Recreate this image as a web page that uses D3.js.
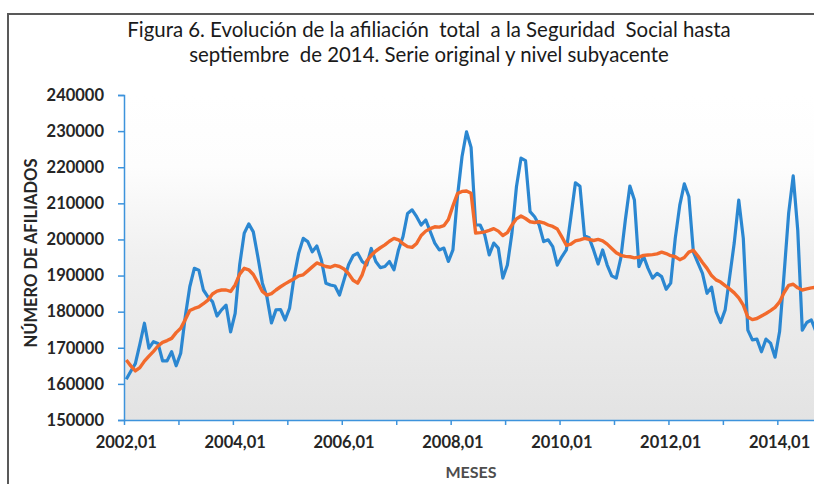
<!DOCTYPE html>
<html>
<head>
<meta charset="utf-8">
<script src="https://cdn.jsdelivr.net/npm/d3@7/dist/d3.min.js"></script>
<style>
  body { margin: 0; background: #ffffff; }
  text { font-family: Lato, "Open Sans", sans-serif; }
</style>
</head>
<body>
<div id="chart"></div>
<script>
//SVG size
var width = 814,
    height = 484;

//Plot area (the right edge runs past the picture, like in the source)
var plotLeft = 124,
    plotTop = 95,
    plotBottom = 420,
    monthWidth = 4.537;

//Months from 2002,01 to 2014,09
var firstYear = 2002;

//Serie original (afiliados)
var original = [
    161300, 163500, 165600, 171000, 176800, 169900, 171700, 171200, 166400, 166400, 168900, 165000,
    168500, 178600, 186900, 192000, 191500, 186000, 184100, 182800, 178800, 180500, 181800, 174400,
    179500, 193000, 201700, 204300, 202100, 195200, 187900, 184100, 176900, 180500, 180600, 177700,
    181000, 189700, 196200, 200300, 199400, 196600, 198200, 194300, 187900, 187400, 187100, 184600,
    188800, 193000, 195500, 196200, 193900, 192900, 197500, 193900, 192200, 192500, 193900, 191600,
    197100, 200800, 207200, 208200, 206300, 204000, 205400, 202200, 199000, 197100, 197600, 193900,
    197100, 211900, 222900, 229800, 225500, 204000, 204000, 201300, 195700, 199000, 197600, 189300,
    192900, 201700, 214600, 222500, 221800, 207700, 206300, 204000, 199400, 199900, 198000, 192900,
    195200, 197100, 206300, 215700, 214700, 201000, 200500, 197100, 193200, 197100, 192900, 189900,
    189300, 194800, 205400, 214800, 210900, 192500, 195400, 192000, 189300, 190600, 189700, 186200,
    187900, 200300, 209500, 215400, 211900, 196500, 193500, 190600, 185100, 186800, 180000, 177000,
    180500, 189700, 199000, 210900, 200300, 174900, 172200, 172400, 168900, 172400, 171300, 167400,
    174500, 190600, 207300, 217600, 202600, 174900, 177000, 177700, 174500
];

//Nivel subyacente
var trend = [
    166600, 165000, 163600, 164500, 166300, 167700, 169000, 170500, 171500, 172000, 172600, 174200,
    175400, 177800, 180300, 180900, 181300, 182200, 183200, 184900, 185700, 186000, 186000, 185600,
    187400, 190400, 192000, 191600, 190300, 188000, 185600, 184600, 185000, 186000, 186900, 187700,
    188400, 189100, 189900, 190200, 191300, 192400, 193500, 193000, 192500, 192300, 192800, 192500,
    191800, 190500, 188700, 187900, 190200, 194000, 195600, 196800, 197700, 198500, 199500, 200300,
    199900, 198800, 198000, 197800, 198900, 201100, 202300, 203000, 203500, 203400, 203800, 205500,
    209300, 212700, 213300, 213400, 212800, 201800, 201900, 202100, 202500, 203000, 202300, 201100,
    201900, 204000, 205700, 206500, 205800, 204900, 204700, 204900, 204600, 204000, 203600, 202900,
    200700, 198400, 198700, 199600, 199900, 200300, 200000, 199700, 200000, 199600, 198700, 197500,
    196300, 195600, 195300, 195200, 194900, 195100, 195600, 195700, 195800, 196000, 196500, 196100,
    195500, 195200, 194400, 195000, 196500, 197000, 195400, 193600, 192000, 190000, 188800, 188200,
    187200, 186300, 185200, 183800, 181800, 178500, 177800, 178100, 178800, 179500, 180300, 181200,
    182700, 185300, 187300, 187600, 186600, 186000, 186300, 186600, 186800
];

//Tick values and labels
var yTicks = [150000, 160000, 170000, 180000, 190000, 200000, 210000, 220000, 230000, 240000];
var xTickMonths = [0, 12, 24, 36, 48, 60, 72, 84, 96, 108, 120, 132, 144];
var xLabelMonths = [0, 24, 48, 72, 96, 120, 144];
var xLabels = ["2002,01", "2004,01", "2006,01", "2008,01", "2010,01", "2012,01", "2014,01"];

var titleLines = [
    "Figura 6. Evolución de la afiliación  total  a la Seguridad  Social hasta",
    "septiembre  de 2014. Serie original y nivel subyacente"
];

var blue = "#2b87d1",
    orange = "#f26a2c",
    axisBlue = "#3d93dc";

var svg = d3.select("#chart")
    .append("svg")
    .attr("width", width)
    .attr("height", height);

//Scales
var nMonths = original.length;
var xScale = d3.scaleLinear()
    .domain([0, nMonths])
    .range([plotLeft, plotLeft + nMonths * monthWidth]);

var yScale = d3.scaleLinear()
    .domain([150000, 240000])
    .range([plotBottom, plotTop]);

//Outer frame
svg.append("rect")
    .attr("x", 8)
    .attr("y", 14)
    .attr("width", 900)
    .attr("height", 600)
    .attr("fill", "#ffffff")
    .attr("stroke", "#595959")
    .attr("stroke-width", 2);

//Gradient of the plot area
var grad = svg.append("defs")
    .append("linearGradient")
    .attr("id", "plotbg")
    .attr("x1", 0).attr("y1", 0)
    .attr("x2", 0).attr("y2", 1);
grad.append("stop").attr("offset", "0%").attr("stop-color", "#ffffff");
grad.append("stop").attr("offset", "22%").attr("stop-color", "#fdfdfd");
grad.append("stop").attr("offset", "50%").attr("stop-color", "#f0f0f0");
grad.append("stop").attr("offset", "100%").attr("stop-color", "#e3e3e3");

svg.append("rect")
    .attr("x", plotLeft)
    .attr("y", plotTop)
    .attr("width", width - plotLeft)
    .attr("height", plotBottom - plotTop)
    .attr("fill", "url(#plotbg)");

//Title
svg.append("g")
    .selectAll("text")
    .data(titleLines)
    .enter()
    .append("text")
    .attr("x", 429)
    .attr("y", function(d, i) { return 37 + i * 25; })
    .attr("text-anchor", "middle")
    .attr("font-size", "20.4px")
    .attr("fill", "#1a1a1a")
    .style("white-space", "pre")
    .text(function(d) { return d; });

//Lines
var line = d3.line()
    .x(function(d, i) { return xScale(i + 0.5); })
    .y(function(d) { return yScale(d); });

svg.append("path")
    .datum(original)
    .attr("fill", "none")
    .attr("stroke", blue)
    .attr("stroke-width", 3.2)
    .attr("stroke-linejoin", "round")
    .attr("d", line);

svg.append("path")
    .datum(trend)
    .attr("fill", "none")
    .attr("stroke", orange)
    .attr("stroke-width", 3.4)
    .attr("stroke-linejoin", "round")
    .attr("d", line);

//Y axis
var yAxis = d3.axisLeft(yScale)
    .tickValues(yTicks)
    .tickSize(6)
    .tickFormat(d3.format("d"));

var gy = svg.append("g")
    .attr("transform", "translate(" + plotLeft + ",0)")
    .call(yAxis);
gy.select(".domain").attr("stroke", axisBlue).attr("stroke-width", 1.5);
gy.selectAll(".tick line").attr("stroke", axisBlue).attr("stroke-width", 1.5);
gy.selectAll(".tick text")
    .attr("x", -20)
    .attr("fill", "#262626")
    .attr("font-size", "16.5px")
    .attr("font-weight", "bold")
    .style("font-family", "Lato, 'Open Sans', sans-serif");

//X axis: ticks every year, labels every two years
var xAxis = d3.axisBottom(xScale)
    .tickValues(xTickMonths)
    .tickSize(5)
    .tickSizeOuter(0)
    .tickFormat("");

var gx = svg.append("g")
    .attr("transform", "translate(0," + plotBottom + ")")
    .call(xAxis);
gx.select(".domain").attr("stroke", axisBlue).attr("stroke-width", 1.5);
gx.selectAll(".tick line").attr("stroke", axisBlue).attr("stroke-width", 1.5);

svg.append("g")
    .selectAll("text")
    .data(xLabelMonths)
    .enter()
    .append("text")
    .attr("x", function(d) { return xScale(d + 0.5); })
    .attr("y", 448)
    .attr("text-anchor", "middle")
    .attr("font-size", "16.5px")
    .attr("font-weight", "bold")
    .attr("fill", "#262626")
    .text(function(d, i) { return xLabels[i]; });

//Axis titles
svg.append("text")
    .attr("transform", "translate(37,253) rotate(-90)")
    .attr("text-anchor", "middle")
    .attr("font-size", "16.5px")
    .attr("font-weight", "bold")
    .attr("fill", "#262626")
    .text("NÚMERO DE AFILIADOS");

svg.append("text")
    .attr("x", 471)
    .attr("y", 478)
    .attr("text-anchor", "middle")
    .attr("font-size", "16px")
    .attr("font-weight", "bold")
    .attr("fill", "#4d4d4d")
    .text("MESES");
</script>
</body>
</html>
